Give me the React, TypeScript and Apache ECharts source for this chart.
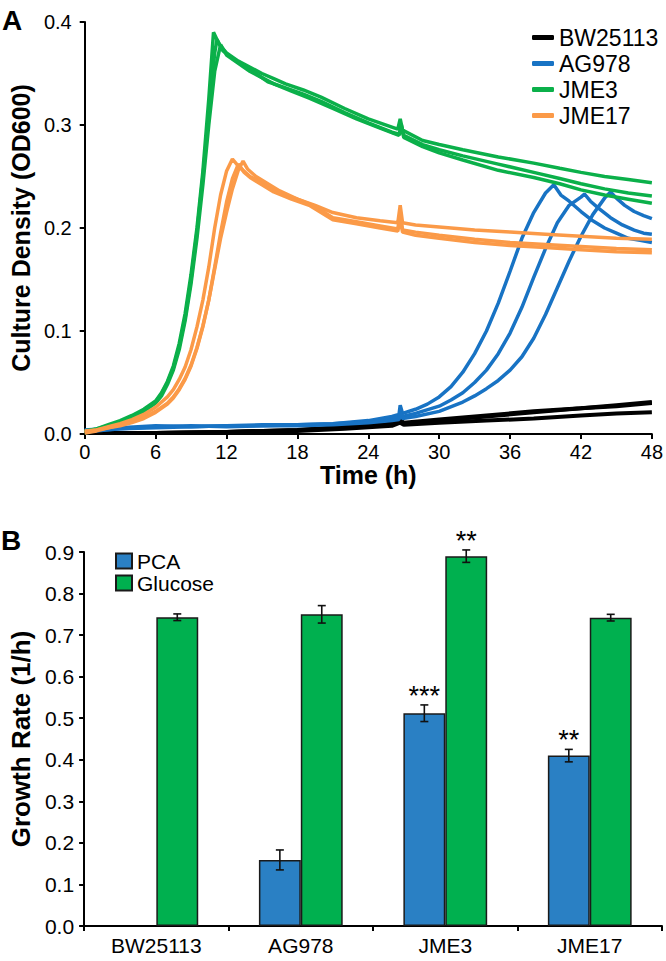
import React, { useEffect, useRef } from "react";
import * as echarts from "echarts";

// ---------- Panel A: culture density (OD600) over time, 3 replicates per strain ----------
const strains = ["BW25113", "AG978", "JME3", "JME17"];
const strainColors = ["#000000", "#1873c4", "#0bb04a", "#fb9a48"];

const bwRep1: [number, number][] = [[0,0.001],[6,0.001],[12,0.002],[18,0.004],[22,0.007],[26,0.01],[26.7,0.014],[27,0.011],[30,0.014],[34,0.018],[38,0.022],[42,0.025],[45,0.028],[48,0.031]];
const bwRep2: [number, number][] = [[0,0.001],[6,0.001],[12,0.002],[18,0.004],[22,0.006],[26,0.009],[26.7,0.012],[27,0.01],[30,0.013],[34,0.017],[38,0.021],[42,0.025],[45,0.027],[48,0.03]];
const bwRep3: [number, number][] = [[0,0.001],[6,0.001],[12,0.002],[18,0.003],[22,0.005],[26,0.008],[26.7,0.011],[27,0.009],[30,0.011],[34,0.013],[38,0.015],[42,0.018],[45,0.02],[48,0.021]];

const agRep1: [number, number][] = [[0,0.004],[3,0.006],[6,0.008],[9,0.007],[12,0.008],[15,0.009],[18,0.009],[21,0.01],[24,0.013],[26,0.017],[26.6,0.019],[26.7,0.028],[26.9,0.02],[28,0.024],[29,0.029],[30,0.036],[31,0.046],[32,0.06],[33,0.078],[34,0.1],[35,0.127],[36,0.158],[37,0.19],[38,0.215],[39,0.234],[39.7,0.242],[40.3,0.232],[41,0.226],[42,0.216],[43,0.207],[44,0.2],[45,0.195],[46,0.19],[47,0.188],[48,0.186]];
const agRep2: [number, number][] = [[0,0.003],[3,0.005],[6,0.007],[9,0.008],[12,0.007],[15,0.008],[18,0.009],[21,0.01],[24,0.012],[26,0.015],[26.6,0.016],[26.7,0.024],[26.9,0.017],[28,0.02],[30,0.027],[31,0.033],[32,0.04],[33,0.05],[34,0.062],[35,0.078],[36,0.098],[37,0.123],[38,0.152],[39,0.18],[40,0.205],[41,0.222],[42,0.23],[42.3,0.233],[42.8,0.226],[43.5,0.219],[44.5,0.21],[45.5,0.203],[46.5,0.198],[47.3,0.195],[48,0.194]];
const agRep3: [number, number][] = [[0,0.002],[3,0.005],[6,0.006],[9,0.007],[12,0.008],[15,0.008],[18,0.008],[21,0.009],[24,0.011],[26,0.013],[26.6,0.014],[26.7,0.021],[26.9,0.015],[28,0.017],[30,0.022],[32,0.031],[33,0.037],[34,0.044],[35,0.052],[36,0.062],[37,0.075],[38,0.093],[39,0.116],[40,0.142],[41,0.168],[42,0.192],[43,0.213],[44,0.229],[44.5,0.235],[45,0.229],[45.7,0.222],[46.5,0.216],[47.3,0.212],[48,0.209]];

const jme3Rep1: [number, number][] = [[0,0.002],[1,0.005],[2,0.009],[3,0.013],[4,0.018],[5,0.024],[6,0.032],[6.5,0.04],[7,0.051],[7.5,0.066],[8,0.088],[8.5,0.117],[9,0.155],[9.5,0.2],[10,0.255],[10.5,0.325],[10.9,0.39],[11.4,0.378],[12,0.37],[13,0.362],[14,0.356],[15,0.35],[16,0.345],[17,0.34],[18.5,0.334],[20,0.327],[22,0.316],[24,0.306],[26,0.298],[26.5,0.296],[26.7,0.306],[26.9,0.295],[28.6,0.285],[30,0.281],[32,0.276],[35,0.269],[38,0.263],[40.2,0.258],[42,0.254],[44,0.25],[46,0.247],[48,0.244]];
const jme3Rep2: [number, number][] = [[0,0.003],[1,0.005],[2,0.008],[3,0.012],[4,0.017],[5,0.023],[6,0.031],[6.5,0.039],[7,0.05],[7.5,0.064],[8,0.085],[8.5,0.113],[9,0.15],[9.5,0.196],[10,0.25],[10.5,0.31],[11,0.37],[11.2,0.383],[11.7,0.372],[12.5,0.365],[13.5,0.357],[14.5,0.35],[15.5,0.342],[17,0.336],[18.5,0.33],[20,0.323],[22,0.312],[24,0.302],[26,0.293],[26.6,0.291],[26.8,0.3],[27,0.29],[28.6,0.281],[30,0.276],[32,0.27],[35,0.262],[38,0.254],[40.2,0.248],[42,0.243],[44,0.238],[46,0.234],[48,0.231]];
const jme3Rep3: [number, number][] = [[0,0.001],[1,0.004],[2,0.007],[3,0.011],[4,0.016],[5,0.022],[6,0.03],[6.5,0.037],[7,0.048],[7.5,0.062],[8,0.082],[8.5,0.11],[9,0.146],[9.5,0.19],[10,0.242],[10.5,0.3],[11,0.352],[11.5,0.378],[12,0.368],[13,0.36],[14,0.352],[15,0.346],[16,0.34],[17.5,0.333],[19,0.326],[21,0.316],[23,0.306],[25,0.297],[26.6,0.29],[26.8,0.298],[27,0.288],[28.6,0.279],[30,0.273],[32,0.266],[35,0.256],[38,0.249],[40.2,0.243],[42,0.237],[44,0.232],[46,0.228],[48,0.224]];

const jme17Rep1: [number, number][] = [[0,0.002],[1,0.004],[2,0.007],[3,0.01],[4,0.014],[5,0.019],[6,0.026],[7,0.036],[7.5,0.043],[8,0.053],[8.5,0.065],[9,0.082],[9.5,0.104],[10,0.13],[10.5,0.162],[11,0.2],[11.5,0.232],[12,0.255],[12.5,0.267],[13,0.26],[13.5,0.255],[14,0.25],[15,0.244],[16,0.237],[17,0.232],[18,0.228],[19.5,0.222],[21,0.215],[23,0.21],[25,0.207],[26.5,0.205],[26.7,0.222],[26.9,0.205],[28,0.203],[30,0.201],[33,0.198],[36,0.196],[39,0.194],[42,0.192],[45,0.19],[48,0.189]];
const jme17Rep2: [number, number][] = [[0,0.003],[1,0.004],[2,0.006],[3,0.009],[4,0.012],[5,0.016],[6,0.022],[7,0.03],[7.5,0.036],[8,0.044],[8.5,0.054],[9,0.067],[9.5,0.084],[10,0.105],[10.5,0.13],[11,0.16],[11.5,0.19],[12,0.215],[12.5,0.238],[13,0.256],[13.4,0.265],[13.8,0.257],[14.5,0.25],[15.5,0.243],[16.5,0.236],[18,0.228],[19.5,0.221],[21,0.21],[23,0.206],[25,0.202],[26.5,0.199],[26.7,0.215],[26.9,0.198],[28,0.196],[30,0.193],[33,0.189],[36,0.186],[39,0.184],[42,0.182],[45,0.18],[48,0.179]];
const jme17Rep3: [number, number][] = [[0,0.001],[1,0.003],[2,0.006],[3,0.008],[4,0.011],[5,0.015],[6,0.021],[7,0.029],[7.5,0.035],[8,0.043],[8.5,0.053],[9,0.066],[9.5,0.083],[10,0.104],[10.5,0.13],[11,0.162],[11.5,0.195],[12,0.225],[12.5,0.248],[13,0.262],[13.5,0.254],[14,0.249],[15,0.242],[16,0.235],[17.5,0.228],[19,0.222],[21,0.208],[23,0.204],[25,0.2],[26.5,0.197],[26.7,0.21],[26.9,0.196],[28,0.193],[30,0.19],[33,0.186],[36,0.183],[39,0.181],[42,0.179],[45,0.177],[48,0.176]];

const replicates = [
  [bwRep1, bwRep2, bwRep3],
  [agRep1, agRep2, agRep3],
  [jme3Rep1, jme3Rep2, jme3Rep3],
  [jme17Rep1, jme17Rep2, jme17Rep3],
];

const timeTicks = { min: 0, max: 48, interval: 6 };
const odTicks = { min: 0, max: 0.4, interval: 0.1 };

// ---------- Panel B: growth rates ----------
const barCategories = ["BW25113", "AG978", "JME3", "JME17"];
const pcaRates = [null, 0.159, 0.512, 0.41];
const pcaErrors = [null, 0.024, 0.02, 0.015];
const pcaStars = ["", "", "***", "**"];
const glucoseRates = [0.743, 0.75, 0.89, 0.742];
const glucoseErrors = [0.008, 0.021, 0.015, 0.008];
const glucoseStars = ["", "", "**", ""];
const rateTicks = { min: 0, max: 0.9, interval: 0.1 };

const FONT = "Liberation Sans, Arial, Helvetica, sans-serif";

export default function App() {
  const ref = useRef<HTMLDivElement>(null);

  useEffect(() => {
    if (!ref.current) return;
    const chart = echarts.init(ref.current, null, { renderer: "svg" });

    const lineSeries: any[] = [];
    replicates.forEach((reps, si) => {
      reps.forEach((rep) => {
        lineSeries.push({
          type: "line",
          name: strains[si],
          xAxisIndex: 0,
          yAxisIndex: 0,
          data: rep,
          showSymbol: false,
          symbol: "none",
          smooth: false,
          lineStyle: { color: strainColors[si], width: si === 0 ? 4 : 3.5 },
          itemStyle: { color: strainColors[si] },
          emphasis: { disabled: true },
          z: 3,
        });
      });
    });

    const errData: any[] = [];
    barCategories.forEach((_, i) => {
      if (pcaRates[i] != null) errData.push([i, pcaRates[i], pcaErrors[i], -1, pcaStars[i]]);
      errData.push([i, glucoseRates[i], glucoseErrors[i], 1, glucoseStars[i]]);
    });

    const axisLine = { show: true, lineStyle: { color: "#000", width: 2 } };
    const axisTick = { show: true, inside: false, length: 5, lineStyle: { color: "#000", width: 2 } };

    const option: any = {
      animation: false,
      textStyle: { fontFamily: FONT },
      grid: [
        { left: 77, top: 22, width: 580, height: 412, containLabel: false },
        { left: 79, top: 552, width: 583, height: 374, containLabel: false },
      ],
      legend: [
        {
          data: strains,
          orient: "vertical",
          left: 527,
          top: 21,
          icon: "roundRect",
          itemWidth: 22,
          itemHeight: 5,
          itemGap: 3,
          textStyle: { fontSize: 23, color: "#000", fontFamily: FONT, lineHeight: 22 },
          selectedMode: false,
        },
        {
          data: ["PCA", "Glucose"],
          orient: "vertical",
          left: 110,
          top: 545,
          icon: "rect",
          itemWidth: 16,
          itemHeight: 15,
          itemGap: 0,
          textStyle: { fontSize: 21, color: "#000", fontFamily: FONT, lineHeight: 22 },
          selectedMode: false,
        },
      ],
      xAxis: [
        {
          type: "value",
          gridIndex: 0,
          min: timeTicks.min,
          max: timeTicks.max,
          interval: timeTicks.interval,
          name: "Time (h)",
          nameLocation: "middle",
          nameGap: 27,
          nameTextStyle: { fontSize: 25, fontWeight: "bold", color: "#000", fontFamily: FONT },
          axisLine,
          axisTick,
          splitLine: { show: false },
          axisLabel: { fontSize: 20, color: "#000", margin: 8, fontFamily: FONT },
        },
        {
          type: "category",
          gridIndex: 1,
          data: barCategories,
          axisLine,
          axisTick: { ...axisTick, alignWithLabel: false },
          splitLine: { show: false },
          axisLabel: { fontSize: 21, color: "#000", margin: 9, fontFamily: FONT },
        },
      ],
      yAxis: [
        {
          type: "value",
          gridIndex: 0,
          min: odTicks.min,
          max: odTicks.max,
          interval: odTicks.interval,
          name: "Culture Density (OD600)",
          nameLocation: "middle",
          nameGap: 47,
          nameTextStyle: { fontSize: 25, fontWeight: "bold", color: "#000", fontFamily: FONT },
          axisLine,
          axisTick,
          splitLine: { show: false },
          axisLabel: { fontSize: 20, color: "#000", margin: 13, fontFamily: FONT, formatter: (v: number) => v.toFixed(1) },
        },
        {
          type: "value",
          gridIndex: 1,
          min: rateTicks.min,
          max: rateTicks.max,
          interval: rateTicks.interval,
          name: "Growth Rate (1/h)",
          nameLocation: "middle",
          nameGap: 49,
          nameTextStyle: { fontSize: 26, fontWeight: "bold", color: "#000", fontFamily: FONT },
          axisLine,
          axisTick,
          splitLine: { show: false },
          axisLabel: { fontSize: 21, color: "#000", margin: 10, fontFamily: FONT, formatter: (v: number) => v.toFixed(1) },
        },
      ],
      series: [
        ...lineSeries,
        {
          type: "bar",
          name: "PCA",
          xAxisIndex: 1,
          yAxisIndex: 1,
          data: pcaRates.map((v) => (v == null ? "-" : v)),
          barGap: "0%",
          barCategoryGap: "42%",
          itemStyle: { color: "#2a80c4", borderColor: "#1a1a1a", borderWidth: 1.5 },
          emphasis: { disabled: true },
        },
        {
          type: "bar",
          name: "Glucose",
          xAxisIndex: 1,
          yAxisIndex: 1,
          data: glucoseRates,
          barGap: "0%",
          barCategoryGap: "42%",
          itemStyle: { color: "#00b04f", borderColor: "#1a1a1a", borderWidth: 1.5 },
          emphasis: { disabled: true },
        },
        {
          type: "custom",
          name: "errors",
          xAxisIndex: 1,
          yAxisIndex: 1,
          data: errData,
          encode: { x: 0, y: 1 },
          silent: true,
          z: 10,
          renderItem: (params: any, api: any) => {
            const idx = api.value(0);
            const val = api.value(1);
            const err = api.value(2);
            const side = api.value(3);
            const star = errData[params.dataIndex][4];
            const band = api.size([1, 0])[0];
            const off = side * band * 0.145;
            const top = api.coord([idx, val + err]);
            const bot = api.coord([idx, val - err]);
            const x = top[0] + off;
            const cap = 4;
            const st = { stroke: "#111", lineWidth: 1.6 };
            const children: any[] = [
              { type: "line", shape: { x1: x, y1: top[1], x2: x, y2: bot[1] }, style: st },
              { type: "line", shape: { x1: x - cap, y1: top[1], x2: x + cap, y2: top[1] }, style: st },
              { type: "line", shape: { x1: x - cap, y1: bot[1], x2: x + cap, y2: bot[1] }, style: st },
            ];
            if (star) {
              children.push({
                type: "text",
                style: {
                  text: star,
                  x,
                  y: top[1] - 9,
                  align: "center",
                  verticalAlign: "middle",
                  fontSize: 27,
                  fontFamily: FONT,
                  fill: "#000",
                },
              });
            }
            return { type: "group", children };
          },
        },
      ],
      graphic: [
        { type: "text", left: 2, top: 6, style: { text: "A", fontSize: 28, fontWeight: "bold", fontFamily: FONT, fill: "#000" } },
        { type: "text", left: 1, top: 526, style: { text: "B", fontSize: 28, fontWeight: "bold", fontFamily: FONT, fill: "#000" } },
      ],
    };

    chart.setOption(option);
    return () => chart.dispose();
  }, []);

  return (
    <div
      ref={ref}
      style={{ position: "fixed", left: 0, top: 0, width: 666, height: 961, background: "#fff" }}
    />
  );
}
